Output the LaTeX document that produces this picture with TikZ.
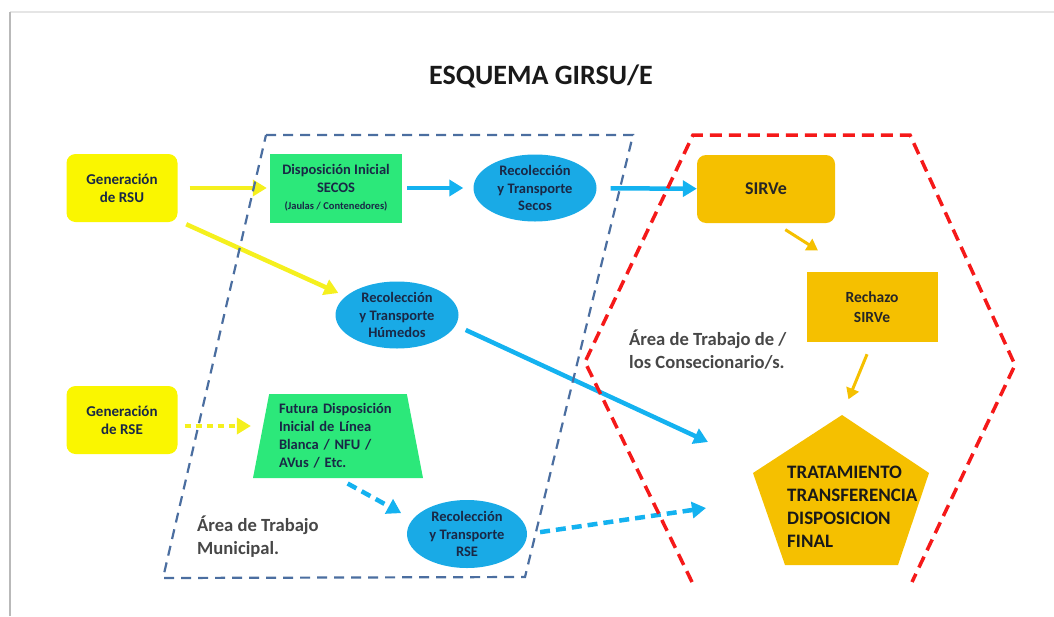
\documentclass[tikz,border=0pt]{standalone}
\usepackage{fontspec}
\setmainfont{Carlito}
\usepackage{tikz}
\usetikzlibrary{arrows.meta}
\usetikzlibrary{shapes.geometric}
\definecolor{genyellow}{RGB}{250,246,0}
\definecolor{arryellow}{RGB}{245,240,30}
\definecolor{dispgreen}{RGB}{44,232,122}
\definecolor{recblue}{RGB}{25,170,230}
\definecolor{arrblue}{RGB}{20,178,240}
\definecolor{recnavy}{RGB}{25,40,70}
\definecolor{sirvegold}{RGB}{245,192,0}
\definecolor{muniblue}{RGB}{75,110,160}
\definecolor{concred}{RGB}{245,25,25}

\begin{document}
\begin{tikzpicture}[x=1pt, y=-1pt,
  gen node/.style={fill=genyellow, rounded corners=9pt, minimum width=111pt, minimum height=68pt, align=center, text=recnavy, font=\fontsize{15}{18}\selectfont\bfseries},
  disp node/.style={fill=dispgreen, minimum width=132pt, minimum height=69pt, align=center, text=recnavy, font=\fontsize{14.5}{17.5}\selectfont\bfseries},
  fut node/.style={trapezium, trapezium left angle=76, trapezium right angle=76, trapezium stretches body, fill=dispgreen, minimum width=170pt, minimum height=84pt, inner sep=0pt, text width=118pt, align=left, text=recnavy, font=\fontsize{14.5}{18}\selectfont\bfseries},
  rec node/.style={ellipse, fill=recblue, minimum width=123pt, minimum height=67pt, inner sep=0pt, align=center, text=recnavy, font=\fontsize{14.5}{17.5}\selectfont\bfseries},
  sirve node/.style={fill=sirvegold, minimum width=138pt, minimum height=68pt, align=center, text=black!85, font=\fontsize{15.5}{20}\selectfont\bfseries},
  area text/.style={anchor=west, align=left, inner sep=0pt, text=black!72, font=\fontsize{18.6}{23}\selectfont\bfseries},
  yarrow/.style={draw=arryellow, line width=4.5pt, -{Triangle[length=14pt,width=16pt]}},
  barrow/.style={draw=arrblue, line width=4.5pt, -{Triangle[length=14pt,width=16pt]}},
  garrow/.style={draw=sirvegold, line width=3pt, -{Triangle[length=11pt,width=13pt]}}]
  \useasboundingbox (0,0) rectangle (1054,616);
  % slide edge
  \draw[gray!20, line width=1.5pt] (10,12) -- (1054,12);
  \draw[gray!55, line width=1.5pt] (10,616) -- (10,12);
  \node[anchor=base, inner sep=0pt, text=black!90, font=\fontsize{28}{32}\selectfont\bfseries] (title) at (541,84) {ESQUEMA GIRSU/E};

  \node[gen node] (rsu) at (122,188) {Generación\\de RSU};
  \node[gen node] (rse) at (122,420) {Generación\\de RSE};
  \node[disp node] (disp) at (336,188) {Disposición Inicial\\SECOS\\{\fontsize{10.5}{13}\selectfont(Jaulas / Contenedores)}};
  \node[fut node] (fut) at (338,436) {Futura Disposición\\Inicial de Línea\\Blanca / NFU /\\AVus / Etc.};
  \node[rec node] (secos) at (535,188) {Recolección\\y Transporte\\Secos};
  \node[rec node] (hum) at (397,315) {Recolección\\y Transporte\\Húmedos};
  \node[rec node, minimum width=120pt, minimum height=68pt] (rsec) at (467,534) {Recolección\\y Transporte\\RSE};
  \node[sirve node, rounded corners=9pt, font=\fontsize{18}{20}\selectfont\bfseries] (sirve) at (766,189) {SIRVe};
  \node[sirve node, minimum width=131pt, minimum height=70pt] (rech) at (872,307) {Rechazo\\SIRVe};

  % pentagon
  \coordinate (tratop) at (842,415);
  \fill[sirvegold] (tratop) -- (929,473) -- (898,565) -- (785,565) -- (753,473) -- cycle;
  \node[anchor=west, align=left, inner sep=0pt, text=black!90, font=\fontsize{19}{23}\selectfont\bfseries] (trat) at (787,507) {TRATAMIENTO\\TRANSFERENCIA\\DISPOSICION\\FINAL};

  \node[area text] (muni) at (197,537) {Área de Trabajo\\Municipal.};
  \node[area text] (conc) at (629,350) {Área de Trabajo de /\\los Consecionario/s.};

  \coordinate (humend) at (708,442);
  \coordinate (rseend) at (706,508);

  \draw[yarrow, shorten <=12pt, shorten >=3pt] (rsu) -- (disp);
  \draw[yarrow, shorten <=5pt, shorten >=8pt] ([xshift=4pt]rsu.south east) -- (hum.160);
  \draw[yarrow, dash pattern=on 6pt off 5pt, shorten <=7pt, shorten >=10pt] ([yshift=-6pt]rse.east) -- ([yshift=-6pt]rse.east -| fut.west);
  \draw[barrow, shorten <=5pt, shorten >=10pt] (disp) -- (secos);
  \draw[barrow, shorten <=14pt] (secos) -- (sirve);
  \draw[barrow, shorten <=11pt] (hum.-10) -- (humend);
  \draw[barrow, dash pattern=on 10pt off 6pt, shorten <=11pt, shorten >=13pt] (fut.south) -- (rsec.165);
  \draw[barrow, dash pattern=on 10pt off 6pt, shorten <=13pt] (rsec.east) -- (rseend);
  \draw[garrow, shorten <=12pt, shorten >=40pt] (sirve.-75) -- (rech.120);
  \draw[garrow, shorten <=13pt, shorten >=17pt] (rech.south) -- (tratop);

  % work areas
  \draw[muniblue, line width=2.2pt, dash pattern=on 10pt off 7pt] (266,135) -- (633,135) -- (525,577) -- (163,578) -- cycle;
  \draw[concred, line width=3.5pt, dash pattern=on 12pt off 7pt] (692,582) -- (585,362) -- (693,135) -- (910,135) -- (1015,365) -- (912,582);
\end{tikzpicture}
\end{document}
